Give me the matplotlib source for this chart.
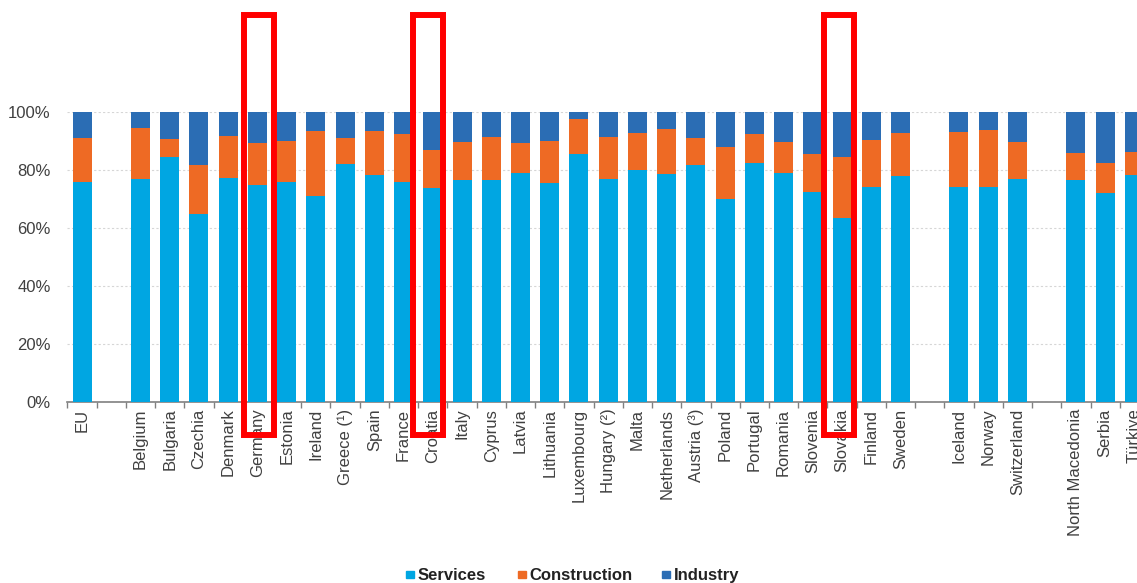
import numpy as np
import matplotlib
matplotlib.use("Agg")
import matplotlib.pyplot as plt
from matplotlib.patches import Rectangle

plt.rcParams["font.family"] = ["Liberation Sans", "DejaVu Sans"]

# ------------------------------------------------------------
# Data (shares; slot = position on category axis)
# ------------------------------------------------------------
countries = [
    "EU", "Belgium", "Bulgaria", "Czechia", "Denmark", "Germany", "Estonia",
    "Ireland", "Greece (¹)", "Spain", "France", "Croatia", "Italy", "Cyprus",
    "Latvia", "Lithuania", "Luxembourg", "Hungary (²)", "Malta", "Netherlands",
    "Austria (³)", "Poland", "Portugal", "Romania", "Slovenia", "Slovakia",
    "Finland", "Sweden", "Iceland", "Norway", "Switzerland",
    "North Macedonia", "Serbia", "Türkiye",
]
slots = [0, 2, 3, 4, 5, 6, 7, 8, 9, 10, 11, 12, 13, 14, 15, 16, 17, 18, 19,
         20, 21, 22, 23, 24, 25, 26, 27, 28, 30, 31, 32, 34, 35, 36]

services = [0.759, 0.767, 0.845, 0.647, 0.772, 0.747, 0.759, 0.709, 0.820,
            0.782, 0.756, 0.736, 0.764, 0.764, 0.790, 0.755, 0.854, 0.767,
            0.799, 0.785, 0.816, 0.698, 0.822, 0.787, 0.723, 0.632, 0.740,
            0.779, 0.741, 0.741, 0.767, 0.764, 0.721, 0.782]
# cumulative top of construction segment
constr_top = [0.908, 0.943, 0.905, 0.816, 0.917, 0.893, 0.898, 0.932, 0.909,
              0.932, 0.923, 0.868, 0.897, 0.914, 0.893, 0.900, 0.974, 0.914,
              0.928, 0.941, 0.911, 0.879, 0.923, 0.894, 0.855, 0.843, 0.902,
              0.925, 0.929, 0.937, 0.894, 0.856, 0.824, 0.862]

highlighted = ["Germany", "Croatia", "Slovakia"]
series_names = ["Services", "Construction", "Industry"]

services = np.array(services)
construction = np.array(constr_top) - services
industry = 1.0 - np.array(constr_top)
x = np.array(slots)

colors = ["#00A6E2", "#EE6A24", "#2B6DB4"]

# ------------------------------------------------------------
# Figure
# ------------------------------------------------------------
W, H = 1137, 583
fig = plt.figure(figsize=(W / 100, H / 100), dpi=100)
ax = fig.add_axes([67.4 / W, 181.3 / H, 1 - 67.4 / W, 290 / H])

w = 0.65
bottom = np.zeros(len(x))
for vals, col, name in zip([services, construction, industry], colors, series_names):
    ax.bar(x, vals, w, bottom=bottom, color=col, label=name, zorder=3)
    bottom = bottom + vals

ax.set_yticks(np.arange(0, 1.01, 0.2))
ax.set_yticklabels([f"{int(round(v * 100))}%" for v in np.arange(0, 1.01, 0.2)],
                   fontsize=12, color="#404040")
ax.tick_params(axis="y", length=0, pad=12)
ax.grid(axis="y", color="#D6D6D6", linestyle=(0, (2, 2)), linewidth=0.8, zorder=0)

ax.set_xticks(x)
ax.set_xticklabels(countries, rotation=90, fontsize=12, color="#404040")
ax.tick_params(axis="x", length=0, pad=5)
ax.set_xticks(np.arange(-0.5, 37, 1), minor=True)
ax.tick_params(axis="x", which="minor", length=4, color="#808080", width=1)

# limits last, set_xticks would widen them
ax.set_xlim(-0.5, 36.09)
ax.set_ylim(0, 1.0)

for s in ["top", "right", "left"]:
    ax.spines[s].set_visible(False)
ax.spines["bottom"].set_color("#808080")
ax.spines["bottom"].set_linewidth(1.2)

# highlight boxes
box_shift = {"Germany": 0.05, "Croatia": -0.15, "Slovakia": -0.11}
for name in highlighted:
    xc = slots[countries.index(name)] + box_shift[name]
    ax.add_patch(Rectangle((xc - 0.515, -0.115), 1.03, 1.448, fill=False,
                           edgecolor="#FF0000", linewidth=4.3, clip_on=False,
                           zorder=10))

# legend, laid out by hand so all labels share one baseline
leg_x = [406, 518, 662]   # left edge of each square, px
sq = 7.5
for px, col, name in zip(leg_x, colors, series_names):
    fig.add_artist(Rectangle((px / W, 1 - 578 / H), sq / W, sq / H,
                             transform=fig.transFigure, color=col))
    fig.text((px + sq + 4) / W, 1 - 580 / H, name, fontsize=12,
             fontweight="bold", color="#222222", va="baseline", ha="left")

fig.savefig("out.png", dpi=100)
